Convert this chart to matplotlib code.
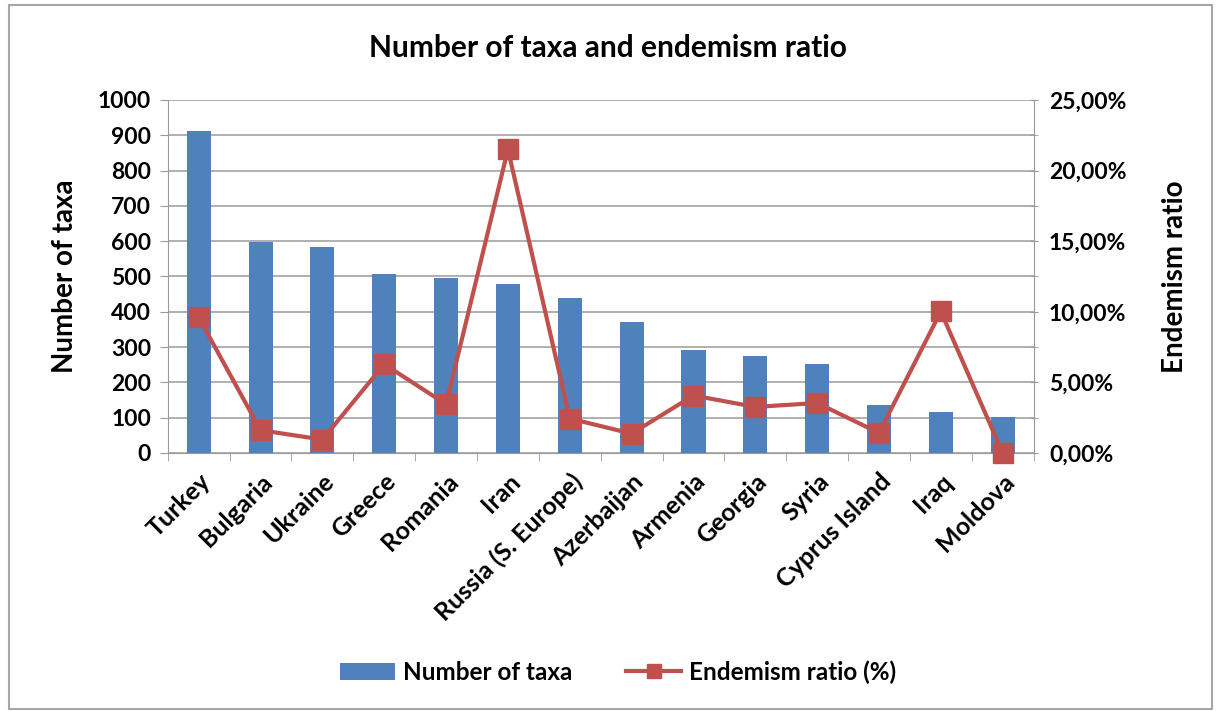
import matplotlib
matplotlib.use("Agg")
import matplotlib.pyplot as plt
from matplotlib.ticker import FuncFormatter, MultipleLocator
from matplotlib.patches import Rectangle
import numpy as np

countries = ["Turkey", "Bulgaria", "Ukraine", "Greece", "Romania", "Iran",
             "Russia (S. Europe)", "Azerbaijan", "Armenia", "Georgia", "Syria",
             "Cyprus Island", "Iraq", "Moldova"]
taxa = [913, 597, 584, 507, 497, 478, 440, 372, 291, 274, 251, 135, 116, 101]
endemism_pct = [9.60, 1.61, 0.95, 6.29, 3.45, 21.50, 2.44, 1.37, 4.07, 3.26,
                3.54, 1.42, 10.02, 0.0]

plt.rcParams['font.family'] = ['Lato', 'DejaVu Sans']
plt.rcParams['font.weight'] = 'bold'

BLUE = "#4F81BD"
RED = "#C0504D"
GRID = "#9A9A9A"

fig = plt.figure(figsize=(12.16, 7.11), dpi=100)
fig.patches.append(Rectangle((0.007, 0.003), 0.99, 0.99, transform=fig.transFigure,
                             fill=False, edgecolor="#A6A6A6", linewidth=1.5))

ax = fig.add_axes([0.138, 0.3629, 0.712, 0.4965])
x = np.arange(len(countries))
ax.bar(x, taxa, width=0.39, color=BLUE, zorder=2, label="Number of taxa")
ax.set_xlim(-0.5, len(countries) - 0.5)
ax.set_ylim(0, 1000)
ax.yaxis.set_major_locator(MultipleLocator(100))
ax.grid(axis='y', color=GRID, linewidth=1.1, zorder=0)
ax.set_axisbelow(True)
for s in ["top", "right"]:
    ax.spines[s].set_visible(False)
ax.spines["left"].set_color(GRID)
ax.spines["bottom"].set_color(GRID)
ax.tick_params(axis='y', length=6, color=GRID, labelsize=16.5, pad=6)
ax.set_xticks(x)
ax.set_xticklabels(countries, rotation=45, ha='right', rotation_mode='anchor',
                   fontsize=18, fontweight='bold')
ax.set_xticks(np.arange(len(countries) + 1) - 0.5, minor=True)
ax.tick_params(axis='x', which='major', length=0, pad=12)
ax.tick_params(axis='x', which='minor', length=6, color=GRID)
ax.set_ylabel("Number of taxa", fontsize=20, fontweight='bold', labelpad=14)

ax2 = ax.twinx()
ax2.plot(x, endemism_pct, color=RED, linewidth=3, marker='s', markersize=14,
         markerfacecolor=RED, markeredgecolor=RED, zorder=3,
         label="Endemism ratio (%)", clip_on=False)
ax2.set_ylim(0, 25)
ax2.yaxis.set_major_locator(MultipleLocator(5))
ax2.yaxis.set_minor_locator(MultipleLocator(2.5))
ax2.yaxis.set_major_formatter(FuncFormatter(lambda v, p: f"{v:.2f}%".replace(".", ",")))
for s in ["top", "left", "bottom"]:
    ax2.spines[s].set_visible(False)
ax2.spines["right"].set_color(GRID)
ax2.tick_params(axis='y', which='both', length=6, color=GRID, direction='inout',
                labelsize=16.5, pad=8)
ax2.set_ylabel("Endemism ratio", fontsize=20, fontweight='bold', labelpad=26)

fig.text(0.5, 0.932, "Number of taxa and endemism ratio", ha='center', va='center',
         fontsize=21.5, fontweight='bold')

h1, l1 = ax.get_legend_handles_labels()
h2, l2 = ax2.get_legend_handles_labels()
fig.legend(h1 + h2, l1 + l2, loc='center', bbox_to_anchor=(0.508, 0.055), ncol=2,
           frameon=False, fontsize=17.5, handlelength=2.3, columnspacing=2.2,
           handletextpad=0.3, markerscale=0.7)

fig.savefig("out.png", dpi=100)
